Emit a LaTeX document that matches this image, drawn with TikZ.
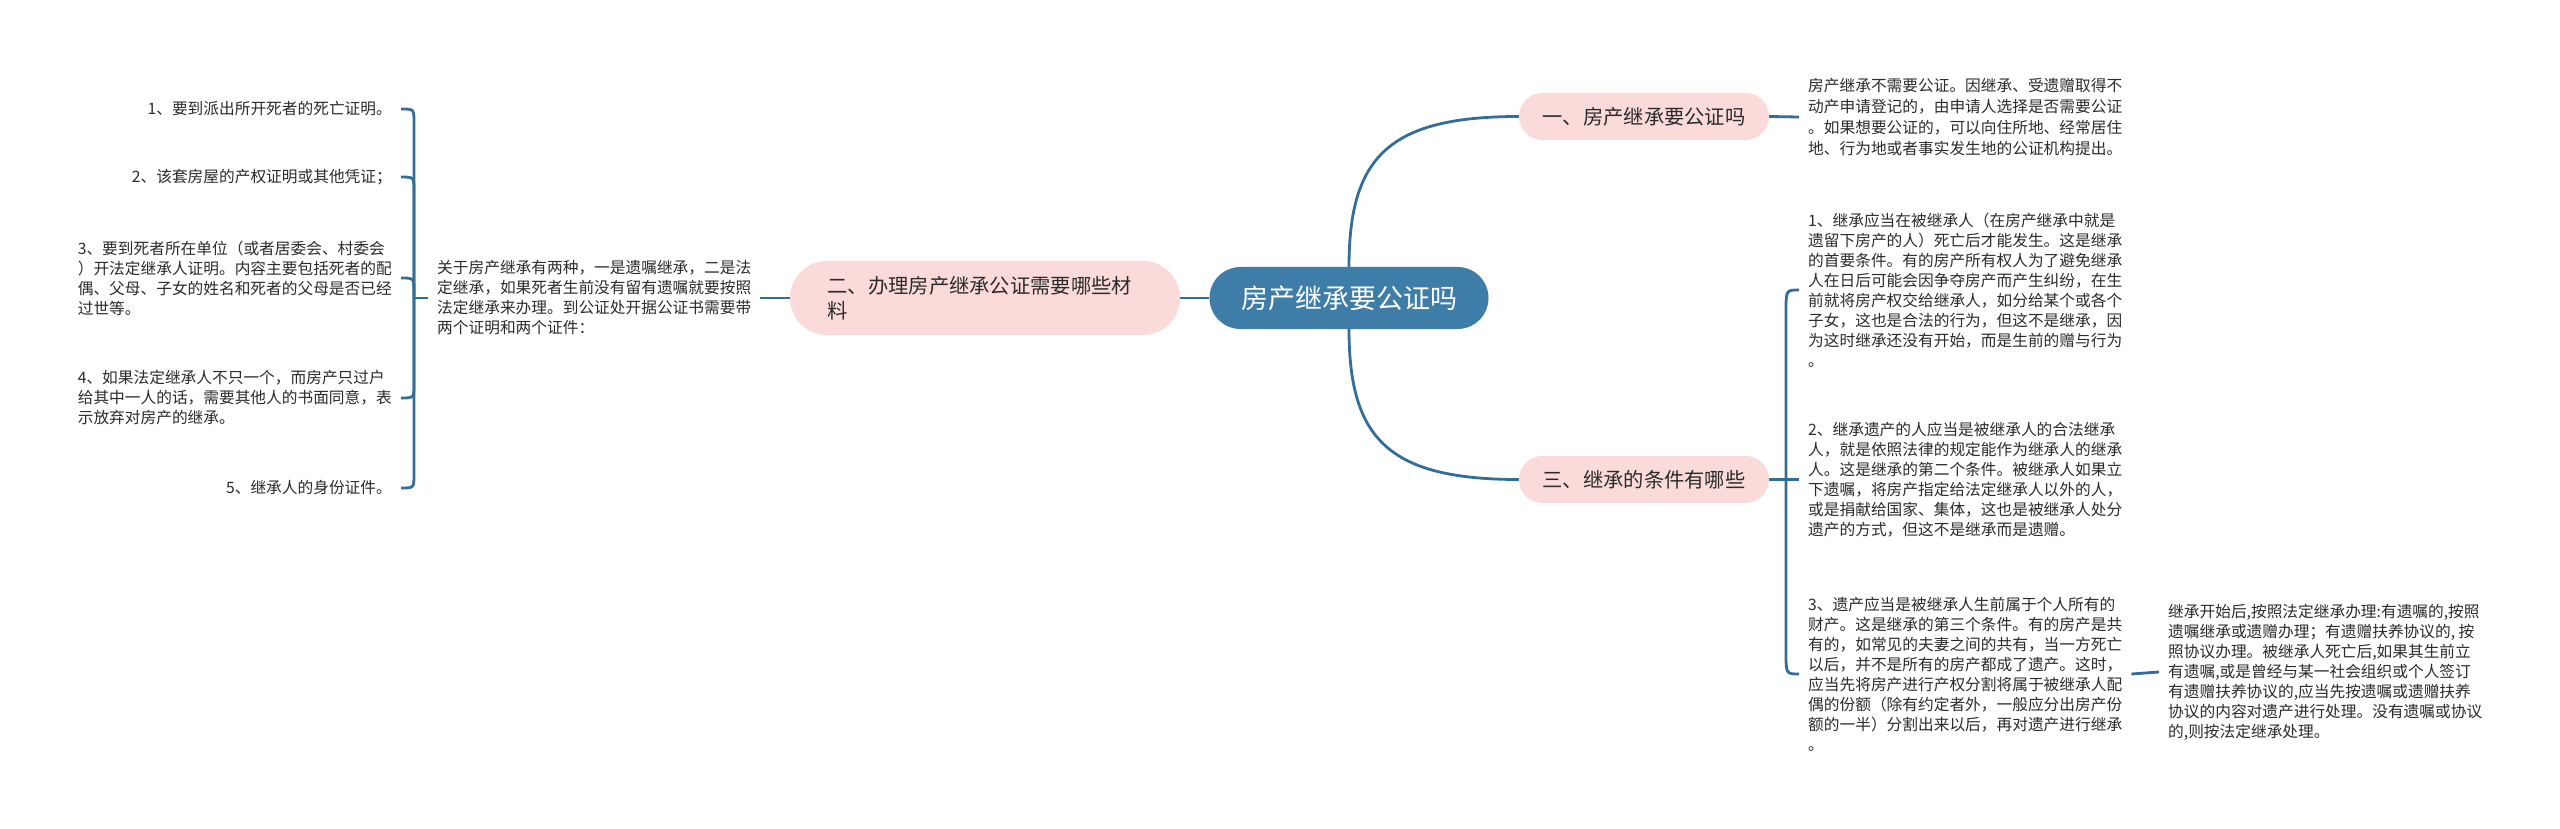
\documentclass[tikz,border=0pt]{standalone}
\usepackage{fontspec}
\setmainfont{Noto Sans CJK SC}
\usetikzlibrary{calc}
\definecolor{lineC}{HTML}{336E99}
\definecolor{rootC}{HTML}{3E7DA7}
\definecolor{pinkC}{HTML}{FBDADA}
\definecolor{txtC}{HTML}{2B2B2B}
\begin{document}
\begin{tikzpicture}[x=1pt,y=-1pt,
  conn/.style={draw=lineC, line width=2.8pt},
  rootbox/.style={fill=rootC, text=white, rounded corners=31pt, minimum width=279pt, minimum height=62pt, inner sep=0pt, font=\fontsize{27}{32}\selectfont},
  topic/.style={fill=pinkC, text=txtC, rounded corners=23.5pt, minimum width=250pt, minimum height=47pt, inner sep=0pt, font=\fontsize{20.3}{25}\selectfont},
  leaf/.style={text=txtC, inner xsep=9pt, inner ysep=0pt, font=\fontsize{15.7}{20}\selectfont, align=left},
]
\fill[white] (0,0) rectangle (2560,829);
\useasboundingbox (0,0) rectangle (2560,829);

% main nodes
\node[rootbox] (root) at (1349,298) {房产继承要公证吗};
\node[topic] (n1) at (1644,116.5) {一、房产继承要公证吗};
\node[topic] (n3) at (1644,479.5) {三、继承的条件有哪些};
\node[topic, minimum width=390pt, minimum height=74pt, rounded corners=37pt, text width=315pt, align=left] (n2) at (985,298) {二、办理房产继承公证需要哪些材\\料};

% right texts
\node[leaf, anchor=west, font=\fontsize{15.7}{21}\selectfont] (t1) at (1799,117) {房产继承不需要公证。因继承、受遗赠取得不\\动产申请登记的，由申请人选择是否需要公证\\。如果想要公证的，可以向住所地、经常居住\\地、行为地或者事实发生地的公证机构提出。};
\node[leaf, anchor=west] (r1) at (1799,290) {1、继承应当在被继承人（在房产继承中就是\\遗留下房产的人）死亡后才能发生。这是继承\\的首要条件。有的房产所有权人为了避免继承\\人在日后可能会因争夺房产而产生纠纷，在生\\前就将房产权交给继承人，如分给某个或各个\\子女，这也是合法的行为，但这不是继承，因\\为这时继承还没有开始，而是生前的赠与行为\\。};
\node[leaf, anchor=west] (r2) at (1799,479.5) {2、继承遗产的人应当是被继承人的合法继承\\人，就是依照法律的规定能作为继承人的继承\\人。这是继承的第二个条件。被继承人如果立\\下遗嘱，将房产指定给法定继承人以外的人，\\或是捐献给国家、集体，这也是被继承人处分\\遗产的方式，但这不是继承而是遗赠。};
\node[leaf, anchor=west] (r3) at (1799,674) {3、遗产应当是被继承人生前属于个人所有的\\财产。这是继承的第三个条件。有的房产是共\\有的，如常见的夫妻之间的共有，当一方死亡\\以后，并不是所有的房产都成了遗产。这时，\\应当先将房产进行产权分割将属于被继承人配\\偶的份额（除有约定者外，一般应分出房产份\\额的一半）分割出来以后，再对遗产进行继承\\。};
\node[leaf, anchor=west] (r3c) at (2159,672) {继承开始后,按照法定继承办理:有遗嘱的,按照\\遗嘱继承或遗赠办理；有遗赠扶养协议的, 按\\照协议办理。被继承人死亡后,如果其生前立\\有遗嘱,或是曾经与某一社会组织或个人签订\\有遗赠扶养协议的,应当先按遗嘱或遗赠扶养\\协议的内容对遗产进行处理。没有遗嘱或协议\\的,则按法定继承处理。};

% left texts
\node[leaf, anchor=west] (m) at (428,298) {关于房产继承有两种，一是遗嘱继承，二是法\\定继承，如果死者生前没有留有遗嘱就要按照\\法定继承来办理。到公证处开据公证书需要带\\两个证明和两个证件：};
\node[leaf, anchor=east] (l1) at (401,109) {1、要到派出所开死者的死亡证明。};
\node[leaf, anchor=east] (l2) at (401,177) {2、该套房屋的产权证明或其他凭证；};
\node[leaf, anchor=east] (l3) at (401,278) {3、要到死者所在单位（或者居委会、村委会\\）开法定继承人证明。内容主要包括死者的配\\偶、父母、子女的姓名和死者的父母是否已经\\过世等。};
\node[leaf, anchor=east] (l4) at (401,398) {4、如果法定继承人不只一个，而房产只过户\\给其中一人的话，需要其他人的书面同意，表\\示放弃对房产的继承。};
\node[leaf, anchor=east] (l5) at (401,488) {5、继承人的身份证件。};

\coordinate (bl) at (414,298);
\coordinate (br) at (1786,479.5);

% connectors
\draw[conn] (root.west) -- (n2.east);
\draw[conn] (root.north) .. controls +(0,-110) and +(-130,0) .. (n1.west);
\draw[conn] (root.south) .. controls +(0,110) and +(-130,0) .. (n3.west);
\draw[conn] (n1.east) -- (t1.west);
\draw[conn] (n3.east) -- (r2.west);
\draw[conn] (br) -- ($(br |- r1.west)+(0,22)$) .. controls (br |- r1.west) .. (r1.west);
\draw[conn] (br) -- ($(br |- r3.west)+(0,-22)$) .. controls (br |- r3.west) .. (r3.west);
\draw[conn] (r3.east) -- (r3c.west);
\draw[conn] (n2.west) -- (m.east);
\draw[conn] (m.west) -- (bl);
\draw[conn] (bl) -- ($(bl |- l1.east)+(0,14)$) .. controls (bl |- l1.east) .. (l1.east);
\draw[conn] (bl) -- ($(bl |- l2.east)+(0,14)$) .. controls (bl |- l2.east) .. (l2.east);
\draw[conn] (bl) -- ($(bl |- l3.east)+(0,14)$) .. controls (bl |- l3.east) .. (l3.east);
\draw[conn] (bl) -- ($(bl |- l4.east)+(0,-14)$) .. controls (bl |- l4.east) .. (l4.east);
\draw[conn] (bl) -- ($(bl |- l5.east)+(0,-14)$) .. controls (bl |- l5.east) .. (l5.east);
\end{tikzpicture}
\end{document}
